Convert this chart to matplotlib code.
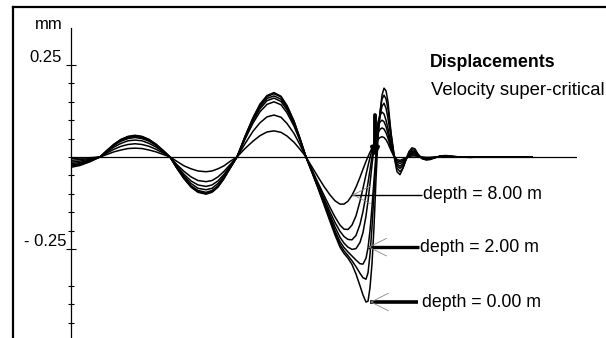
import matplotlib
matplotlib.use("Agg")
import matplotlib.pyplot as plt
from matplotlib.lines import Line2D

plt.rcParams['font.family'] = ['Liberation Sans', 'DejaVu Sans']

# ---------------- data ----------------
# horizontal position along the track (arbitrary units, no scale shown)
x_pos = [71, 80, 90,
         100, 107, 114, 121, 128, 135, 142, 149, 156, 163, 170,
         177, 184, 191, 198, 206, 212, 218, 224, 230, 237,
         245, 253, 260, 267, 274, 281, 287, 294, 300, 306,
         312, 318, 324, 330, 335, 340, 344, 348, 352, 356,
         360, 363, 366, 368, 370, 372, 374, 376, 378, 380,
         382, 384, 386, 388, 391, 394, 397, 400, 403, 406,
         409, 412, 415, 418, 422, 426, 430, 435, 440, 446,
         452, 460, 470, 480, 495, 510, 532]

depths = [0.0, 1.0, 2.0, 3.0, 4.0, 6.0, 8.0]

disp_0m = [-0.028, -0.023, -0.013,
           0, .018, .035, .048, .056, .059, .056, .048, .035, .018, 0,
           -.031, -.059, -.082, -.096, -.101, -.096, -.082, -.059, -.031, 0,
           .056, .107, .144, .167, .175, .165, .140, .098, .051, 0,
           -0.042, -0.085, -0.130, -0.175, -0.212, -0.245, -0.262, -0.275, -0.292, -0.318,
           -0.350, -0.375, -0.394, -0.392, -0.355, -0.290, -0.190, -0.060, 0.050, 0.120,
           0.168, 0.187, 0.180, 0.150, 0.065, 0.002, -0.040, -0.048, -0.030, -0.005,
           0.015, 0.025, 0.022, 0.008, -0.004, -0.008, -0.007, -0.002, 0.003, 0.004,
           0.002, 0.0, -0.001, 0.0, 0.0, 0.0, 0.0]

disp_1m = [-0.025, -0.020, -0.011,
           0, .018, .034, .047, .055, .058, .055, .047, .034, .018, 0,
           -.031, -.058, -.080, -.094, -.099, -.094, -.080, -.058, -.031, 0,
           .055, .105, .141, .164, .172, .163, .138, .096, .050, 0,
           -0.041, -0.083, -0.126, -0.170, -0.206, -0.238, -0.255, -0.268, -0.282, -0.298,
           -0.316, -0.328, -0.332, -0.315, -0.265, -0.190, -0.100, -0.010, 0.065, 0.122,
           0.157, 0.168, 0.158, 0.130, 0.065, 0.008, -0.030, -0.040, -0.030, -0.008,
           0.010, 0.020, 0.018, 0.007, -0.004, -0.007, -0.006, -0.002, 0.002, 0.003,
           0.002, 0.0, -0.001, 0.0, 0.0, 0.0, 0.0]

disp_2m = [-0.022, -0.018, -0.010,
           0, .017, .033, .045, .053, .056, .053, .045, .033, .017, 0,
           -.030, -.056, -.078, -.091, -.096, -.091, -.078, -.056, -.030, 0,
           .053, .101, .136, .159, .166, .157, .133, .093, .048, 0,
           -0.040, -0.081, -0.122, -0.165, -0.200, -0.230, -0.246, -0.258, -0.269, -0.280,
           -0.290, -0.291, -0.275, -0.247, -0.200, -0.135, -0.062, 0.008, 0.065, 0.110,
           0.138, 0.146, 0.133, 0.105, 0.052, 0.006, -0.024, -0.031, -0.023, -0.007,
           0.008, 0.016, 0.014, 0.005, -0.004, -0.006, -0.005, -0.001, 0.002, 0.002,
           0.001, 0.0, 0.0, 0.0, 0.0, 0.0, 0.0]

disp_3m = [-0.018, -0.015, -0.008,
           0, .016, .031, .043, .050, .053, .050, .043, .031, .016, 0,
           -.028, -.052, -.072, -.085, -.089, -.085, -.072, -.052, -.028, 0,
           .051, .098, .131, .153, .160, .151, .128, .090, .046, 0,
           -0.039, -0.079, -0.118, -0.158, -0.190, -0.218, -0.234, -0.245, -0.251, -0.249,
           -0.232, -0.205, -0.160, -0.120, -0.072, -0.022, 0.025, 0.065, 0.095, 0.114,
           0.122, 0.117, 0.100, 0.077, 0.036, 0.002, -0.019, -0.025, -0.018, -0.006,
           0.006, 0.012, 0.011, 0.004, -0.003, -0.005, -0.004, -0.001, 0.001, 0.002,
           0.001, 0.0, 0.0, 0.0, 0.0, 0.0, 0.0]

disp_4m = [-0.014, -0.011, -0.006,
           0, .014, .027, .037, .044, .046, .044, .037, .027, .014, 0,
           -.025, -.047, -.065, -.076, -.080, -.076, -.065, -.047, -.025, 0,
           .048, .092, .123, .143, .150, .142, .120, .084, .044, 0,
           -0.037, -0.075, -0.112, -0.149, -0.178, -0.202, -0.216, -0.224, -0.225, -0.213,
           -0.183, -0.148, -0.103, -0.070, -0.035, 0.000, 0.032, 0.060, 0.082, 0.095,
           0.100, 0.096, 0.083, 0.063, 0.030, 0.002, -0.014, -0.018, -0.013, -0.004,
           0.004, 0.009, 0.008, 0.003, -0.002, -0.004, -0.003, -0.001, 0.001, 0.001,
           0.001, 0.0, 0.0, 0.0, 0.0, 0.0, 0.0]

disp_6m = [-0.009, -0.007, -0.004,
           0, .011, .021, .029, .034, .036, .034, .029, .021, .011, 0,
           -.021, -.039, -.054, -.064, -.067, -.064, -.054, -.039, -.021, 0,
           .036, .070, .093, .109, .114, .108, .091, .064, .033, 0,
           -0.035, -0.070, -0.104, -0.137, -0.163, -0.185, -0.196, -0.197, -0.185, -0.160,
           -0.120, -0.085, -0.048, -0.024, -0.002, 0.019, 0.037, 0.053, 0.066, 0.075,
           0.079, 0.076, 0.066, 0.051, 0.024, 0.002, -0.010, -0.013, -0.009, -0.003,
           0.003, 0.006, 0.005, 0.002, -0.001, -0.003, -0.002, -0.001, 0.001, 0.001,
           0.0, 0.0, 0.0, 0.0, 0.0, 0.0, 0.0]

disp_8m = [-0.004, -0.003, -0.002,
           0, .007, .014, .019, .023, .024, .023, .019, .014, .007, 0,
           -.012, -.024, -.032, -.038, -.040, -.038, -.032, -.024, -.012, 0,
           .023, .043, .058, .068, .071, .067, .057, .040, .021, 0,
           -0.027, -0.054, -0.080, -0.103, -0.119, -0.128, -0.128, -0.120, -0.104, -0.082,
           -0.055, -0.033, -0.012, 0.001, 0.013, 0.024, 0.033, 0.041, 0.048, 0.053,
           0.055, 0.053, 0.047, 0.037, 0.018, 0.002, -0.007, -0.009, -0.006, -0.002,
           0.001, 0.003, 0.003, 0.001, 0.0, -0.001, -0.001, 0.0, 0.0, 0.0,
           0.0, 0.0, 0.0, 0.0, 0.0, 0.0, 0.0]

curves = [disp_0m, disp_1m, disp_2m, disp_3m, disp_4m, disp_6m, disp_8m]

y_major = [0.25, -0.25]
y_minor = [0.20, 0.15, 0.10, 0.05, 0.0, -0.05, -0.10, -0.15, -0.20,
           -0.35, -0.40, -0.45]

load_x = 375
load_top = 0.114

label_texts = ["depth = 8.00 m", "depth = 2.00 m", "depth = 0.00 m"]
label_curve_x = [352, 368, 370]
label_curve_y = [-0.103, -0.245, -0.394]

# ---------------- figure ----------------
W, H = 606, 338
fig = plt.figure(figsize=(W / 100, H / 100), dpi=100)

ax_left, ax_right, ax_top = 71, 577, 28
ax = fig.add_axes([ax_left / W, 0.0, (ax_right - ax_left) / W, 1 - ax_top / H])
ax.set_xlim(71, 577)
ax.set_ylim(-0.4918, 0.3505)

for s in ['top', 'right', 'bottom']:
    ax.spines[s].set_visible(False)
ax.spines['left'].set_linewidth(0.9)
ax.set_xticks([])
ax.set_yticks(y_major)
ax.set_yticklabels([])
ax.set_yticks(y_minor, minor=True)
ax.tick_params(axis='y', which='major', direction='inout', length=7, width=0.8)
ax.tick_params(axis='y', which='minor', direction='inout', length=3.8, width=0.8)

ax.axhline(0, color='black', lw=0.9, zorder=2)

for c in curves:
    ax.plot(x_pos, c, color='black', lw=1.1, zorder=3, solid_joinstyle='round')

# load arrow
ax.annotate('', xy=(load_x, 0.0), xytext=(load_x, load_top),
            arrowprops=dict(arrowstyle='-|>', lw=2.8, color='black',
                            mutation_scale=11, shrinkA=0, shrinkB=0),
            zorder=5)

# leader lines
lead_lw = [1.0, 2.4, 2.6]
text_x = [423, 420.5, 422]
line_end = [422, 419, 418]
for t, cx, cy, lw, tx, le in zip(label_texts, label_curve_x, label_curve_y,
                                 lead_lw, text_x, line_end):
    ax.plot([cx, le], [cy, cy], color='black', lw=lw, solid_capstyle='butt', zorder=4)
    ax.annotate('', xy=(cx, cy), xytext=(cx + 3, cy),
                arrowprops=dict(arrowstyle='->,head_length=0.9,head_width=0.45',
                                lw=0.6, color='#888888', shrinkA=0, shrinkB=0,
                                mutation_scale=14), zorder=4)
    ax.text(tx, cy, t, fontsize=12.8, ha='left', va='center', zorder=6)

# titles
ax.text(430, (157 - 63) / 368, 'Displacements', fontsize=12.8, fontweight='bold',
        ha='left', va='center')
ax.text(431, (157 - 91) / 368, 'Velocity super-critical', fontsize=13.3,
        ha='left', va='center')

# axis texts
ax.text(62, (157 - 57.3) / 368, '0.25', fontsize=12, ha='right', va='center', clip_on=False)
ax.text(66.5, (157 - 241.7) / 368, '- 0.25', fontsize=12, ha='right', va='center', clip_on=False)
ax.text(62.5, (157 - 24.3) / 368, 'mm', fontsize=12, ha='right', va='center', clip_on=False)

# outer frame (top and left edges)
fig.add_artist(Line2D([13 / W, 1.0], [1 - 7 / H, 1 - 7 / H], color='black', lw=1.6,
                      transform=fig.transFigure))
fig.add_artist(Line2D([13 / W, 13 / W], [0, 1 - 7 / H], color='black', lw=1.6,
                      transform=fig.transFigure))

fig.savefig('out.png', dpi=100)
